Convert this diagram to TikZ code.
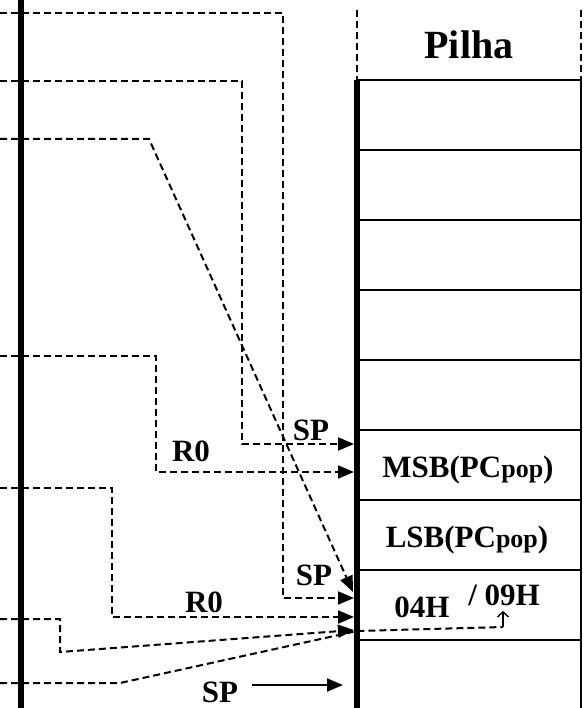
\documentclass[tikz,border=0pt]{standalone}
\usepackage{fontspec}
\setmainfont{Liberation Serif}
\usetikzlibrary{arrows.meta}
\begin{document}
\begin{tikzpicture}[x=1pt,y=-1pt,
  lbl/.style={font=\fontsize{31}{36}\selectfont\bfseries, anchor=base, inner sep=0pt},
  title/.style={font=\fontsize{40}{46}\selectfont\bfseries, anchor=base, inner sep=0pt},
  dl/.style={line width=2pt, dash pattern=on 7pt off 4pt},
  tipped/.style={-{Triangle[length=16pt,width=13pt]}},
  grid/.style={line width=2.2pt},
  thick bar/.style={line width=6pt},
]
\useasboundingbox (0,0) rectangle (583,708);

% address bus bar on the left
\draw[thick bar] (21,0) -- (21,708);

% stack header
\draw[dl] (357,10) -- (357,80);
\draw[dl] (581,10) -- (581,80);
\node[title] (pilha) at (469,59) {Pilha};

% stack cells
\foreach \yy in {80,150,220,290,360,430,500,570,640}
  \draw[grid] (357,\yy) -- (581,\yy);
\draw[grid] (581,80) -- (581,708);
\draw[thick bar] (357,80) -- (357,708);

\newcommand{\popsub}{{\fontsize{26}{30}\selectfont pop}}
\node[lbl] (msb) at (468,477) {MSB(PC\popsub)};
\node[lbl] (lsb) at (467,547) {LSB(PC\popsub)};
\node[lbl] (v04) at (422,617) {04H};
\node[lbl] (v09) at (504,605) {/ 09H};

% connector end points
\coordinate (s1) at (0,13);   \coordinate (t1) at (354,598);
\coordinate (s2) at (0,81);   \coordinate (t2) at (354,444);
\coordinate (s3) at (0,139);  \coordinate (t3) at (353,592);
\coordinate (s4) at (0,356);  \coordinate (t4) at (354,472);
\coordinate (s5) at (0,488);  \coordinate (t5) at (354,617);
\coordinate (s6) at (0,619);  \coordinate (t6) at (354,630);
\coordinate (s7) at (0,683);  \coordinate (t7) at (503,627);
\coordinate (up7) at (503,611);
\coordinate (s8) at (252,685); \coordinate (t8) at (343,685);

% pointer moves
\draw[dl,tipped] (s1) -- (283,13) -- (283,598) -- (t1);
\draw[dl,tipped] (s2) -- (242,81) -- (242,444) -- (t2);
\draw[dl,tipped] (s3) -- (149,139) -- (t3);
\draw[dl,tipped] (s4) -- (156,356) -- (156,472) -- (t4);
\draw[dl,tipped] (s5) -- (112,488) -- (112,617) -- (t5);
\draw[dl,tipped] (s6) -- (60,619) -- (60,652) -- (t6);
\draw[dl] (s7) -- (120,683) -- (357,631) -- (t7);
\draw[line width=1.4pt,-{Straight Barb[length=5pt,width=11pt]}] (t7) -- (up7);
\draw[line width=2pt,tipped] (s8) -- (t8);

% labels
\node[lbl] (sp1) at (311,440) {SP};
\node[lbl] (r01) at (191,461) {R0};
\node[lbl] (sp2) at (314,585) {SP};
\node[lbl] (r02) at (204,612) {R0};
\node[lbl] (sp3) at (220,702) {SP};
\end{tikzpicture}
\end{document}
